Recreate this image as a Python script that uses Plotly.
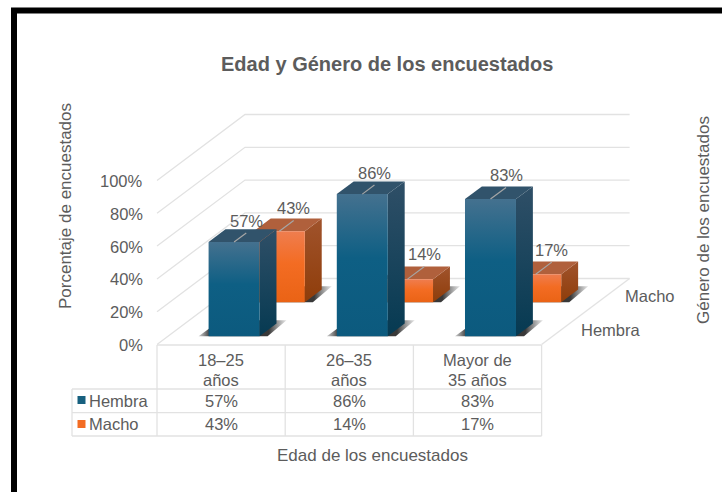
import plotly.graph_objects as go

# ---- data ----
categories = ["18–25<br>años", "26–35<br>años", "Mayor de<br>35 años"]
hembra = [57, 86, 83]
macho = [43, 14, 17]
y_ticks = [0, 20, 40, 60, 80, 100]
series_names = ["Hembra", "Macho"]

# ---- oblique projection of the 3D scene (axis units = pixels, y upward) ----
H = 492
FX, FY = 157, H - 344.5      # front-left corner of the floor
CAT_W = 128.2
DX, DY = 88, 66              # full depth of the floor
VS = 1.64                    # grid height per percentage point
BAR_VS = 1.652               # bar height per percentage point
BAR_W = 51
INSET = 40.5
FONT = "Liberation Sans"
TXT = "#5c5c5c"
GRID = "#e2e2e2"
LEADER_H = [0.72, 0.72, 0.92]
LEADER_M = [0.85, 1.0, 0.95]


def proj(x, d, v=0, vs=VS):
    return x + d * DX, FY + d * DY + v * vs


fig = go.Figure()


def poly(pts, color=None, grad=None):
    xs = [p[0] for p in pts] + [pts[0][0]]
    ys = [p[1] for p in pts] + [pts[0][1]]
    kw = dict(x=xs, y=ys, mode="lines", line=dict(width=0), fill="toself",
              hoverinfo="skip", showlegend=False)
    if grad:
        kw["fillgradient"] = grad
    else:
        kw["fillcolor"] = color
    fig.add_trace(go.Scatter(**kw))


def line(xs, ys, color=GRID, width=1.3):
    fig.add_trace(go.Scatter(x=xs, y=ys, mode="lines", line=dict(color=color, width=width),
                             hoverinfo="skip", showlegend=False))


def text(x, y, s, size=16.5, color=TXT, anchor="center", angle=0, bold=False):
    fig.add_annotation(x=x, y=y, xref="x", yref="y", text=f"<b>{s}</b>" if bold else s,
                       showarrow=False, xanchor=anchor, yanchor="middle", textangle=angle,
                       font=dict(family=FONT, size=size, color=color))


# walls and floor
RIGHT = FX + CAT_W * len(categories)
for t in y_ticks:
    a = proj(FX, 0, t)
    b = proj(FX, 1, t)
    c = proj(RIGHT, 1, t)
    line([a[0], b[0], c[0]], [a[1], b[1], c[1]])
a, b = proj(RIGHT, 0), proj(RIGHT, 1)
line([a[0], b[0]], [a[1], b[1]])


def gv(stops):
    return dict(type="vertical", colorscale=stops)


def bar(i, value, d0, d1, front, side, top, leader_f):
    x0 = FX + CAT_W * i + INSET
    x1 = x0 + BAR_W
    # floor shadow
    fl, fr = proj(x0, d0), proj(x1, d0)
    poly([(fl[0] - 10, fl[1]), (fr[0] + 8, fr[1]), (fr[0] + 27, fr[1] + 16), (fl[0] + 12, fl[1] + 16)],
         grad=dict(type="horizontal", colorscale=[[0, "rgba(60,60,60,0.25)"], [0.14, "rgba(35,35,35,0.95)"],
                                                  [0.8, "rgba(35,35,35,0.9)"], [1, "rgba(90,90,90,0.15)"]]))
    # side, top, front faces
    p = lambda x, d, v=0: proj(x, d, v, BAR_VS)
    poly([p(x1, d0), p(x1, d1), p(x1, d1, value), p(x1, d0, value)], grad=gv(side))
    poly([p(x0, d0, value), p(x1, d0, value), p(x1, d1, value), p(x0, d1, value)], color=top)
    poly([p(x0, d0), p(x1, d0), p(x1, d0, value), p(x0, d0, value)], grad=gv(front))
    # leader and value label
    xc = (x0 + x1) / 2
    s = p(xc, d0, value)
    e = p(xc, d0 + (d1 - d0) * leader_f, value)
    line([s[0], e[0]], [s[1], e[1]], color="#a6a6a6", width=1.2)
    return e[0], e[1] + 12


BLUE_F = [[0, "#0c5a7e"], [0.55, "#0e5f84"], [1, "#44718f"]]
BLUE_S = [[0, "#063a52"], [1, "#2f4f67"]]
ORG_F = [[0, "#ea6315"], [0.55, "#f36c23"], [1, "#ef7d4f"]]
ORG_S = [[0, "#8f3d0a"], [1, "#a0532c"]]

labels = []
for i, v in enumerate(macho):
    labels.append((*bar(i, v, 0.64, 0.832, ORG_F, ORG_S, "#b0603c", LEADER_M[i]), v))
for i, v in enumerate(hembra):
    labels.append((*bar(i, v, 0.126, 0.318, BLUE_F, BLUE_S, "#31536b", LEADER_H[i]), v))
for x, y, v in labels:
    text(x, y, f"{v}%")

# value axis labels
for t in y_ticks:
    p = proj(FX, 0, t)
    text(145, p[1] - 0.5, f"{t}%", anchor="right")

# depth axis labels
text(650, H - 296, series_names[1])
text(611, H - 330, series_names[0])

# data table
Y_ROWS = [H - 345, H - 389, H - 412.7, H - 436]
X_COLS = [FX + CAT_W * k for k in range(len(categories) + 1)]
for k, y in enumerate(Y_ROWS):
    line([X_COLS[0] if k == 0 else 72, X_COLS[-1]], [y, y])
for x in X_COLS:
    line([x, x], [Y_ROWS[0], Y_ROWS[-1]])
line([72, 72], [Y_ROWS[1], Y_ROWS[3]])

for k, c in enumerate(categories):
    cx = FX + CAT_W * (k + 0.5)
    l1, l2 = c.split("<br>")
    text(cx, H - 360, l1)
    text(cx, H - 379.5, l2)
    text(cx, H - 400.5, f"{hembra[k]}%")
    text(cx, H - 424, f"{macho[k]}%")

text(87, H - 400.5, series_names[0], anchor="left")
text(87, H - 424, series_names[1], anchor="left")
for yc, col in [(H - 400, "#17607f"), (H - 424, "#f36c23")]:
    poly([(77.5, yc - 4), (85.5, yc - 4), (85.5, yc + 4), (77.5, yc + 4)], color=col)

# titles
text(387, H - 64, "Edad y Género de los encuestados", size=20, bold=True)
text(372.5, H - 455, "Edad de los encuestados", size=17)
text(65, H - 206, "Porcentaje de encuestados", size=17, angle=-90)
text(703, H - 220, "Género de los encuestados", size=17, angle=-90)

# outer frame
line([14, 14, 722], [0, H - 10.5, H - 10.5], color="#000000", width=6)

fig.update_layout(
    width=722, height=492, margin=dict(l=0, r=0, t=0, b=0),
    paper_bgcolor="#ffffff", plot_bgcolor="#ffffff", showlegend=False,
    xaxis=dict(range=[0, 722], visible=False, fixedrange=True),
    yaxis=dict(range=[0, 492], visible=False, fixedrange=True),
)
fig.write_html("out.html", config={"displayModeBar": False},
               post_script="document.body.style.margin='0';document.documentElement.style.overflow='hidden';")
